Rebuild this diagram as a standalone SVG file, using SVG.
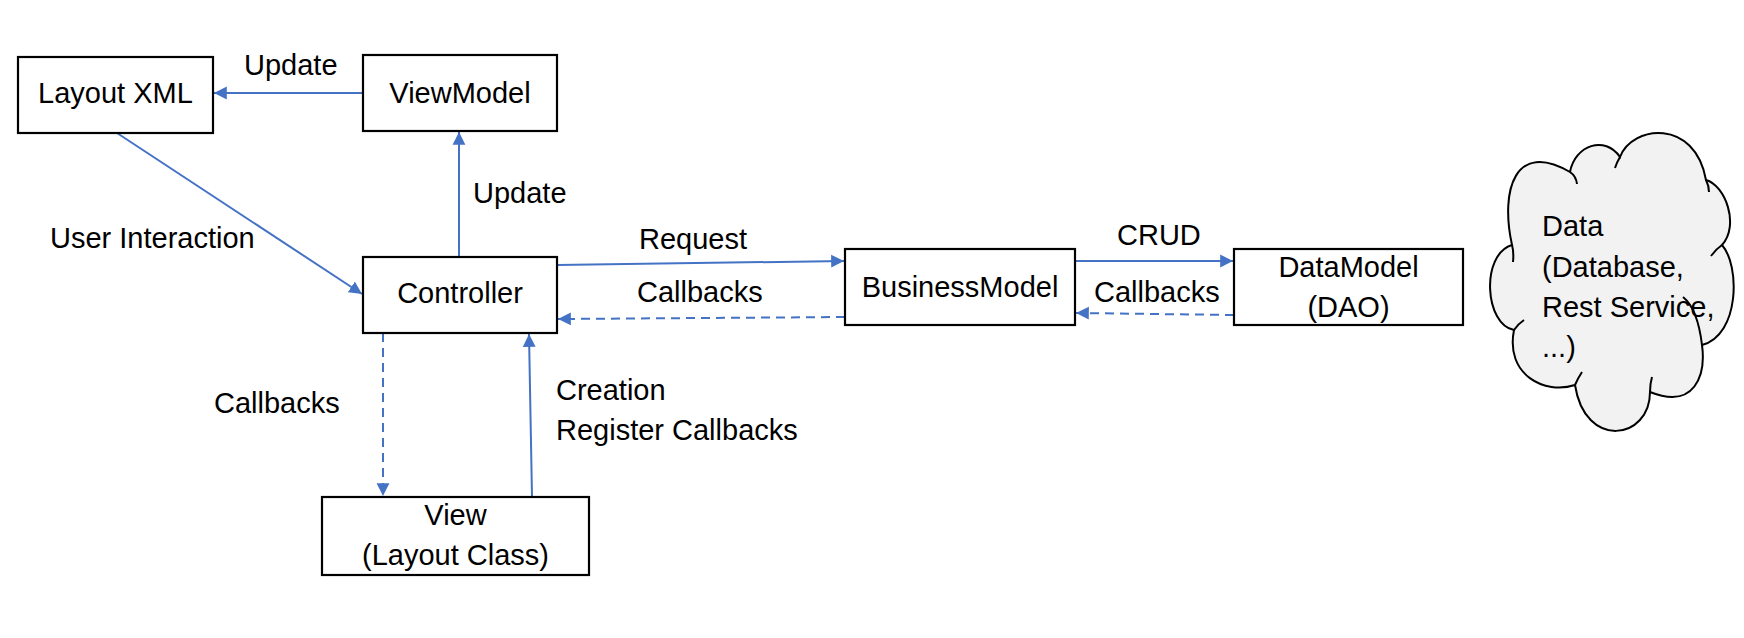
<svg xmlns="http://www.w3.org/2000/svg" width="1744" height="638" viewBox="0 0 1744 638">
<style>
.box{fill:#fff;stroke:#000;stroke-width:2.2}
.t{font-family:"Liberation Sans",Arial,sans-serif;font-size:29px;fill:#000}
.c{text-anchor:middle}
.ln{stroke:#4472C4;stroke-width:2;fill:none;marker-end:url(#ah)}
.dash{stroke-dasharray:9 6}
</style>
<defs>
<marker id="ah" markerUnits="userSpaceOnUse" markerWidth="14" markerHeight="14" viewBox="0 0 12 12" refX="11" refY="6" orient="auto">
<path d="M0,0.5 L11,6 L0,11.5 Z" fill="#4472C4"/>
</marker>
</defs>
<rect width="1744" height="638" fill="#fff"/>

<g id="connectors">
<line class="ln" x1="363" y1="93" x2="214" y2="93"/>
<line class="ln" x1="117" y1="133" x2="362" y2="294"/>
<line class="ln" x1="459" y1="257" x2="459" y2="132"/>
<line class="ln" x1="557" y1="265" x2="844" y2="261"/>
<line class="ln dash" x1="845" y1="317" x2="558" y2="319"/>
<line class="ln" x1="1075" y1="261" x2="1233" y2="261"/>
<line class="ln dash" x1="1234" y1="315" x2="1076" y2="313"/>
<line class="ln dash" x1="383" y1="333" x2="383" y2="496"/>
<line class="ln" x1="532" y1="497" x2="529" y2="334"/>
<text class="t" x="244" y="75">Update</text>
<text class="t" x="473" y="203">Update</text>
<text class="t" x="50" y="248">User Interaction</text>
<text class="t" x="639" y="249">Request</text>
<text class="t" x="637" y="302">Callbacks</text>
<text class="t" x="1117" y="245">CRUD</text>
<text class="t" x="1094" y="302">Callbacks</text>
<text class="t" x="214" y="413">Callbacks</text>
<text class="t" x="556" y="400">Creation</text>
<text class="t" x="556" y="440">Register Callbacks</text>
</g>

<g id="layoutxml">
<rect class="box" x="18" y="57" width="195" height="76"/>
<text class="t c" x="115.5" y="103">Layout XML</text>
</g>
<g id="viewmodel">
<rect class="box" x="363" y="55" width="194" height="76"/>
<text class="t c" x="460" y="103">ViewModel</text>
</g>
<g id="controller">
<rect class="box" x="363" y="257" width="194" height="76"/>
<text class="t c" x="460" y="303">Controller</text>
</g>
<g id="businessmodel">
<rect class="box" x="845" y="249" width="230" height="76"/>
<text class="t c" x="960" y="297">BusinessModel</text>
</g>
<g id="datamodel">
<rect class="box" x="1234" y="249" width="229" height="76"/>
<text class="t c" x="1348.5" y="277">DataModel</text>
<text class="t c" x="1348.5" y="317">(DAO)</text>
</g>
<g id="view">
<rect class="box" x="322" y="497" width="267" height="78"/>
<text class="t c" x="455.5" y="525">View</text>
<text class="t c" x="455.5" y="565">(Layout Class)</text>
</g>
<g id="data">
<path d="M1512,245 C1500,190 1515,140 1570,172 C1575,145 1605,135 1620,157 C1632,125 1695,118 1706,180 C1725,185 1740,225 1722,245 C1740,265 1740,335 1702,345 C1706,375 1695,410 1650,392 C1650,440 1585,450 1575,385 C1545,395 1505,375 1514,330 C1485,325 1480,255 1512,245 Z" fill="#f2f2f2" stroke="#000" stroke-width="2"/>
<path d="M1570,172 Q1576,176 1577,184 M1620,157 Q1617,162 1615,168 M1706,180 Q1709,186 1709,192 M1722,245 Q1716,249 1711,256 M1683,297 C1693,305 1699,320 1702,345 M1650,392 Q1650,384 1652,377 M1575,385 Q1578,378 1582,372 M1514,330 Q1518,324 1524,320 M1512,245 Q1514,252 1513,262" fill="none" stroke="#000" stroke-width="2"/>
<text class="t" x="1542" y="236">Data</text>
<text class="t" x="1542" y="277">(Database,</text>
<text class="t" x="1542" y="317">Rest Service,</text>
<text class="t" x="1542" y="357">...)</text>
</g>
</svg>
